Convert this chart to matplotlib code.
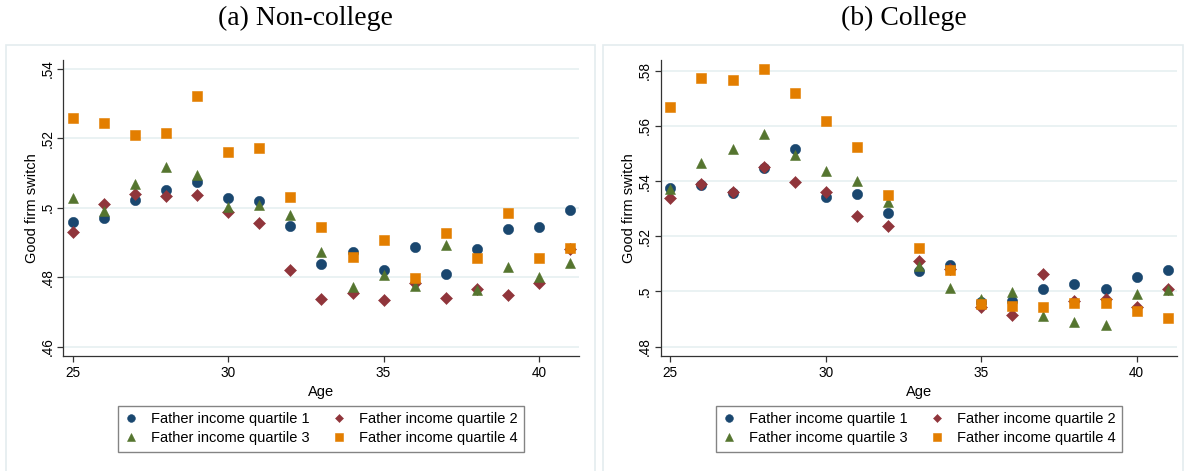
import numpy as np
import matplotlib
matplotlib.use("Agg")
import matplotlib.pyplot as plt
from matplotlib.patches import Rectangle

ages = list(range(25, 42))

# Non-college, by father income quartile
nc_q1 = [.4959, .4969, .5021, .5051, .5073, .5027, .5019, .4948, .4839, .4873, .4820, .4887, .4809, .4881, .4938, .4943, .4993]
nc_q2 = [.4929, .5011, .5039, .5034, .5036, .4987, .4955, .4821, .4736, .4754, .4734, .4783, .4741, .4767, .4750, .4783, .4880]
nc_q3 = [.5029, .4991, .5068, .5118, .5093, .5001, .5009, .4978, .4871, .4771, .4807, .4775, .4892, .4762, .4830, .4800, .4840]
nc_q4 = [.5258, .5243, .5209, .5216, .5322, .5161, .5172, .5030, .4945, .4858, .4906, .4798, .4928, .4855, .4985, .4856, .4883]

# College, by father income quartile
c_q1 = [.5375, .5386, .5358, .5449, .5515, .5344, .5353, .5284, .5074, .5096, .4962, .4965, .5010, .5028, .5009, .5053, .5076]
c_q2 = [.5340, .5389, .5360, .5451, .5397, .5360, .5272, .5236, .5111, .5081, .4942, .4913, .5062, .4966, .4972, .4942, .5009]
c_q3 = [.5373, .5465, .5518, .5570, .5493, .5436, .5400, .5325, .5091, .5012, .4974, .4999, .4912, .4888, .4879, .4992, .5006]
c_q4 = [.5667, .5775, .5766, .5807, .5719, .5618, .5522, .5350, .5156, .5076, .4954, .4949, .4945, .4959, .4959, .4928, .4905]

labels = ["Father income quartile 1", "Father income quartile 2",
          "Father income quartile 3", "Father income quartile 4"]
nc_ticks = [.46, .48, .50, .52, .54]
nc_ticklabels = [".46", ".48", ".5", ".52", ".54"]
c_ticks = [.48, .50, .52, .54, .56, .58]
c_ticklabels = [".48", ".5", ".52", ".54", ".56", ".58"]

# stata s2color palette
colors = ["#1a476f", "#90353b", "#55752f", "#e37e00"]
markers = ["o", "D", "^", "s"]
msizes = [7.4, 5.8, 7.4, 7.2]

plt.rcParams["font.family"] = ["Liberation Sans", "DejaVu Sans"]

W, H = 1185, 471
fig = plt.figure(figsize=(W / 100, H / 100), dpi=100)


def px(x0, y0, x1, y1):
    return [x0 / W, 1 - y1 / H, (x1 - x0) / W, (y1 - y0) / H]


def panel(rect, frame, series, ylim, ticks, ticklabels, title, title_x, leg_x):
    # light graph-region outline
    fig.patches.append(Rectangle((frame[0] / W, 1 - frame[3] / H),
                                 (frame[2] - frame[0]) / W, (frame[3] - frame[1]) / H,
                                 transform=fig.transFigure, fill=False,
                                 edgecolor="#e4ecef", linewidth=1.2))
    fig.text(title_x / W, 1 - 18 / H, title, ha="center", va="center",
             fontsize=20, family=["Liberation Serif", "DejaVu Serif"])

    ax = fig.add_axes(px(*rect))
    handles = []
    for ys, c, m, ms, lab in zip(series, colors, markers, msizes, labels):
        h, = ax.plot(ages, ys, linestyle="none", marker=m, markersize=ms,
                     color=c, markeredgecolor=c, markeredgewidth=0.4, label=lab,
                     zorder=3)
        handles.append(h)

    ax.set_xlim(24.69, 41.29)
    ax.set_ylim(*ylim)
    ax.set_xticks([25, 30, 35, 40])
    ax.set_yticks(ticks)
    ax.set_yticklabels(ticklabels, rotation=90, va="center")
    ax.tick_params(labelsize=9.8, length=4.5, width=0.9, color="#333333", pad=3)
    ax.tick_params(axis="y", pad=2)
    ax.grid(axis="y", color="#eaf2f3", linewidth=1.4, zorder=0)
    ax.set_axisbelow(True)
    for s in ["top", "right"]:
        ax.spines[s].set_visible(False)
    for s in ["left", "bottom"]:
        ax.spines[s].set_color("#333333")
        ax.spines[s].set_linewidth(0.9)
    ax.set_xlabel("Age", fontsize=10.5, labelpad=3)
    ax.set_ylabel("Good firm switch", fontsize=10.5, labelpad=1)

    # legend fills column-first, so order gives rows (1, 2) and (3, 4)
    order = [0, 2, 1, 3]
    leg = fig.legend([handles[i] for i in order], [labels[i] for i in order],
                     ncol=2, loc="center",
                     bbox_to_anchor=(leg_x / W, 1 - 428.7 / H),
                     fontsize=10.5, frameon=True, fancybox=False,
                     handlelength=0.9, handletextpad=0.9, columnspacing=1.6,
                     labelspacing=0.35, borderpad=0.45, markerscale=0.75)
    leg.get_frame().set_edgecolor("#666666")
    leg.get_frame().set_linewidth(1.0)
    return ax


panel((63.3, 60, 579, 356), (6, 45, 594.5, 475),
      [nc_q1, nc_q2, nc_q3, nc_q4], (.4573, .5425), nc_ticks, nc_ticklabels,
      "(a) Non-college", 305.5, 321)
panel((660.7, 60, 1176.7, 356), (602.5, 45, 1183, 475),
      [c_q1, c_q2, c_q3, c_q4], (.4766, .5839), c_ticks, c_ticklabels,
      "(b) College", 904, 919)

fig.savefig("out.png", dpi=100)
